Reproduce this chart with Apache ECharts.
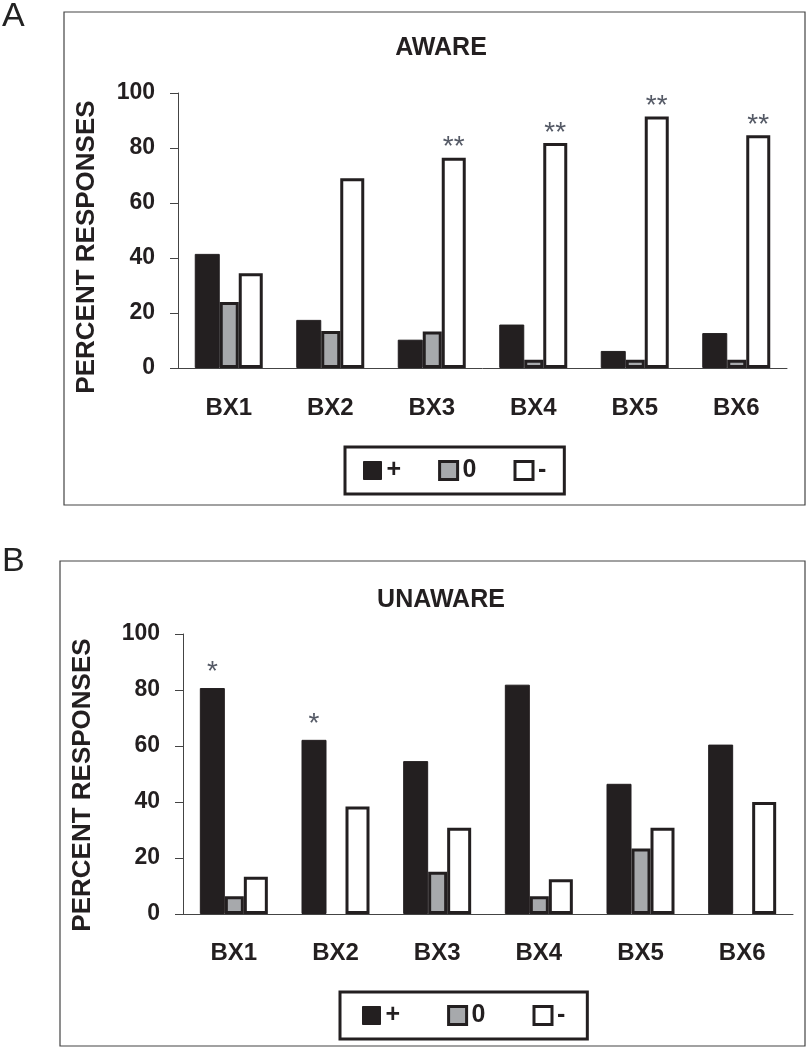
<!DOCTYPE html>
<html>
<head>
<meta charset="utf-8">
<script src="https://cdn.jsdelivr.net/npm/echarts@6/dist/echarts.min.js"></script>
<style>
html,body{margin:0;padding:0;background:#fff;}
#chart{width:807px;height:1050px;}
</style>
</head>
<body>
<div id="chart"></div>
<script>
// ---- data ----
const categories = ['BX1', 'BX2', 'BX3', 'BX4', 'BX5', 'BX6'];
const seriesNames = ['+', '0', '-'];
const yTicks = [0, 20, 40, 60, 80, 100];
const yAxisTitle = 'PERCENT RESPONSES';
const panelTitles = ['AWARE', 'UNAWARE'];
const panelLetters = ['A', 'B'];

const awarePlus  = [41.5, 17.5, 10.3, 15.8, 6.2, 12.7];
const awareZero  = [24, 13.5, 13.3, 3, 3, 3];
const awareMinus = [34.5, 69, 76.5, 81.8, 91.5, 84.6];
const awareMarks = ['', '', '**', '**', '**', '**'];   // over "-" bars

const unawarePlus  = [80.7, 62.2, 54.6, 81.9, 46.5, 60.5];
const unawareZero  = [6.3, 0, 15.1, 6.3, 23.4, 0];
const unawareMinus = [13.3, 38.4, 30.8, 12.4, 30.8, 40];
const unawareMarks = ['*', '*', '', '', '', ''];        // over "+" bars

// ---- styling ----
const FONT = '"Liberation Sans", Arial, sans-serif';
const INK = '#231f20';
const GRAY = '#a7a9ac';
const styles = [
  { color: INK, borderColor: INK, borderWidth: 1, barWidth: 25 },
  { color: GRAY, borderColor: INK, borderWidth: 3, barWidth: 19 },
  { color: '#ffffff', borderColor: INK, borderWidth: 3, barWidth: 24 }
];

function toItems(arr) {
  return arr.map(v => v === 0 ? { value: 0, itemStyle: { borderWidth: 0 } } : v);
}

function makeSeries(idx, values, gridIdx, marks, labelDist) {
  const st = styles[idx];
  const s = {
    name: seriesNames[idx],
    type: 'bar',
    xAxisIndex: gridIdx,
    yAxisIndex: gridIdx,
    barWidth: st.barWidth,
    barGap: '0%',
    data: toItems(values),
    itemStyle: { color: st.color, borderColor: st.borderColor, borderWidth: st.borderWidth },
    emphasis: { disabled: true },
    animation: false
  };
  if (marks) {
    s.label = {
      show: true,
      position: 'top',
      distance: labelDist,
      fontFamily: FONT,
      fontSize: 28,
      color: '#555a66',
      formatter: p => marks[p.dataIndex]
    };
  }
  return s;
}

const grids = [
  { left: 178, top: 93, width: 609, height: 275 },
  { left: 183, top: 634, width: 610, height: 280 }
];

function xAxis(gridIndex, margin) {
  return {
    type: 'category', gridIndex, data: categories,
    axisLine: { lineStyle: { color: '#444', width: 1 } },
    axisTick: { show: false },
    axisLabel: { fontFamily: FONT, fontWeight: 'bold', fontSize: 24, color: INK, margin }
  };
}
function yAxis(gridIndex) {
  return {
    type: 'value', gridIndex, min: yTicks[0], max: yTicks[yTicks.length - 1],
    interval: yTicks[1] - yTicks[0],
    axisLine: { show: true, lineStyle: { color: '#444', width: 1 } },
    axisTick: { show: true, length: 8, lineStyle: { color: '#444' } },
    splitLine: { show: false },
    axisLabel: { fontFamily: FONT, fontWeight: 'bold', fontSize: 23, color: INK, margin: 23 }
  };
}
function legend(left, top, gap, padH) {
  return {
    left, top, orient: 'horizontal', itemGap: gap,
    itemWidth: 18, itemHeight: 18, icon: 'rect',
    padding: [11, padH, 11, padH],
    borderColor: INK, borderWidth: 3,
    selectedMode: false,
    textStyle: { fontFamily: FONT, fontWeight: 'bold', fontSize: 25, color: INK },
    data: seriesNames.map((n, i) => ({
      name: n,
      itemStyle: { color: styles[i].color, borderColor: INK, borderWidth: i === 0 ? 1 : 3 }
    }))
  };
}
function yTitle(x, y) {
  return { type: 'text', x, y, rotation: Math.PI / 2,
    style: { text: yAxisTitle, font: 'bold 26px ' + FONT, fill: INK, align: 'center', verticalAlign: 'middle' } };
}

const option = {
  backgroundColor: '#fff',
  animation: false,
  title: [
    { text: panelTitles[0], left: 436, top: 31, textAlign: 'center',
      textStyle: { fontFamily: FONT, fontWeight: 'bold', fontSize: 25, color: INK } },
    { text: panelTitles[1], left: 436, top: 583, textAlign: 'center',
      textStyle: { fontFamily: FONT, fontWeight: 'bold', fontSize: 25, color: INK } }
  ],
  grid: grids,
  xAxis: [xAxis(0, 28), xAxis(1, 27)],
  yAxis: [yAxis(0), yAxis(1)],
  legend: [legend(345, 447, 37, 18), legend(340, 992, 47, 22)],
  graphic: [
    { type: 'rect', shape: { x: 64, y: 12, width: 741, height: 493 },
      style: { fill: 'none', stroke: '#444', lineWidth: 1.2 }, z: -1 },
    { type: 'rect', shape: { x: 60, y: 561, width: 745, height: 485 },
      style: { fill: 'none', stroke: '#444', lineWidth: 1.2 }, z: -1 },
    { type: 'text', left: 2, top: 0,
      style: { text: panelLetters[0], font: 'normal 34px ' + FONT, fill: '#222' } },
    { type: 'text', left: 2, top: 545,
      style: { text: panelLetters[1], font: 'normal 34px ' + FONT, fill: '#222' } },
    yTitle(87, 247),
    yTitle(83, 785)
  ],
  series: [
    makeSeries(0, awarePlus, 0),
    makeSeries(1, awareZero, 0),
    makeSeries(2, awareMinus, 0, awareMarks, -4),
    makeSeries(0, unawarePlus, 1, unawareMarks, 2),
    makeSeries(1, unawareZero, 1),
    makeSeries(2, unawareMinus, 1)
  ]
};

const chart = echarts.init(document.getElementById('chart'), null, { renderer: 'canvas' });
chart.setOption(option);
</script>
</body>
</html>
